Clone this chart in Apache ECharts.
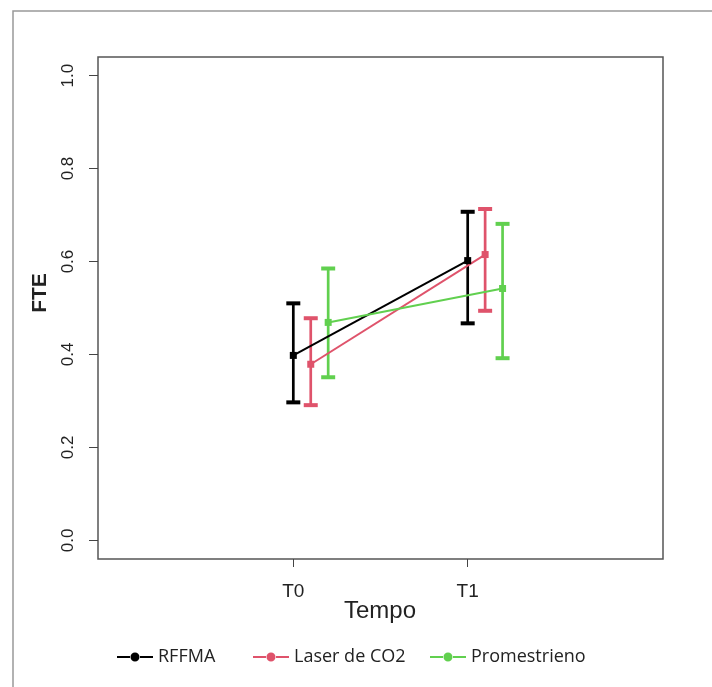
<!DOCTYPE html>
<html><head><meta charset="utf-8">
<script src="https://cdn.jsdelivr.net/npm/echarts@6/dist/echarts.min.js"></script>
<style>html,body{margin:0;padding:0;background:#fff}#c{width:712px;height:687px}</style>
</head><body><div id="c"></div>
<script>
const timeLabels = ['T0', 'T1'];
const timePos = [1, 2];
const groups = ['RFFMA', 'Laser de CO2', 'Promestrieno'];
const colors = ['#000000', '#DF536B', '#61D04F'];
const dodge = [0, 0.1, 0.2];
const meanRFFMA = [0.398, 0.602];
const loRFFMA = [0.297, 0.467];
const hiRFFMA = [0.510, 0.707];
const meanLaser = [0.379, 0.615];
const loLaser = [0.291, 0.494];
const hiLaser = [0.478, 0.713];
const meanProm = [0.469, 0.542];
const loProm = [0.351, 0.392];
const hiProm = [0.585, 0.681];
const yTicks = [0, 0.2, 0.4, 0.6, 0.8, 1.0];

const means = [meanRFFMA, meanLaser, meanProm];
const los = [loRFFMA, loLaser, loProm];
const his = [hiRFFMA, hiLaser, hiProm];

const chart = echarts.init(document.getElementById('c'), null, {renderer: 'canvas'});
const series = [];
groups.forEach((g, gi) => {
  series.push({
    name: g, type: 'custom', z: 2,
    data: timePos.map((t, i) => [t + dodge[gi], los[gi][i], his[gi][i]]),
    renderItem: (params, api) => {
      const x = api.value(0);
      const p1 = api.coord([x, api.value(1)]);
      const p2 = api.coord([x, api.value(2)]);
      const st = {stroke: colors[gi], lineWidth: 2.7};
      const hw = 7;
      return {type: 'group', children: [
        {type: 'line', shape: {x1: p1[0], y1: p1[1], x2: p2[0], y2: p2[1]}, style: st},
        {type: 'line', shape: {x1: p1[0]-hw, y1: p1[1], x2: p1[0]+hw, y2: p1[1]}, style: {stroke: colors[gi], lineWidth: 4}},
        {type: 'line', shape: {x1: p2[0]-hw, y1: p2[1], x2: p2[0]+hw, y2: p2[1]}, style: {stroke: colors[gi], lineWidth: 4}}
      ]};
    }
  });
  series.push({
    name: g, type: 'line', z: 3,
    data: timePos.map((t, i) => [t + dodge[gi], means[gi][i]]),
    symbol: 'rect', symbolSize: 7,
    itemStyle: {color: colors[gi]},
    lineStyle: {color: colors[gi], width: 2},
    animation: false
  });
});

const iconPath = 'path://M0,4 L13,4 L13,6 L0,6 Z M23,4 L36,4 L36,6 L23,6 Z M13.5,5 A4.5,4.5 0 1,1 22.5,5 A4.5,4.5 0 1,1 13.5,5 Z';
const legendLefts = [112, 248, 425];

chart.setOption({
  animation: false,
  backgroundColor: '#ffffff',
  grid: {left: 98, right: 49, top: 57, bottom: 128, show: true, borderColor: '#555', borderWidth: 1.5, backgroundColor: 'transparent'},
  xAxis: {
    type: 'value', min: -0.12, max: 3.12,
    axisLine: {show: false, onZero: false}, splitLine: {show: false},
    axisTick: {show: true, customValues: timePos, length: 8, lineStyle: {color: '#444', width: 1}},
    axisLabel: {customValues: timePos, formatter: v => timeLabels[Math.round(v) - 1], margin: 23,
      fontFamily: 'Liberation Sans, Arial', fontSize: 19, color: '#222'}
  },
  yAxis: {
    type: 'value', min: -0.04, max: 1.04,
    axisLine: {show: false, onZero: false}, splitLine: {show: false},
    axisTick: {show: true, customValues: yTicks, length: 9, lineStyle: {color: '#444', width: 1}},
    axisLabel: {customValues: yTicks, formatter: v => v.toFixed(1), rotate: 90, margin: 21,
      fontFamily: 'Liberation Sans, Arial', fontSize: 17, color: '#222'}
  },
  legend: groups.map((g, i) => ({
    left: legendLefts[i], top: 643, itemWidth: 36, itemHeight: 10, itemGap: 0,
    data: [{name: g, icon: iconPath, itemStyle: {color: colors[i]}}],
    textStyle: {fontFamily: 'Open Sans', fontSize: 18, color: '#222'}
  })),
  graphic: [
    {type: 'rect', shape: {x: 13, y: 11, width: 720, height: 700}, style: {fill: 'none', stroke: '#999', lineWidth: 1.5}, silent: true},
    {type: 'text', x: 380, y: 611, style: {text: 'Tempo', fontFamily: 'Liberation Sans, Arial', fontSize: 24, fill: '#222', textAlign: 'center', textVerticalAlign: 'middle'}},
    {type: 'text', x: 40, y: 293, rotation: Math.PI/2, style: {text: 'FTE', fontFamily: 'Liberation Sans, Arial', fontSize: 21, fontWeight: 'bold', fill: '#222', textAlign: 'center', textVerticalAlign: 'middle'}}
  ],
  series: series
});
</script>
</body></html>
